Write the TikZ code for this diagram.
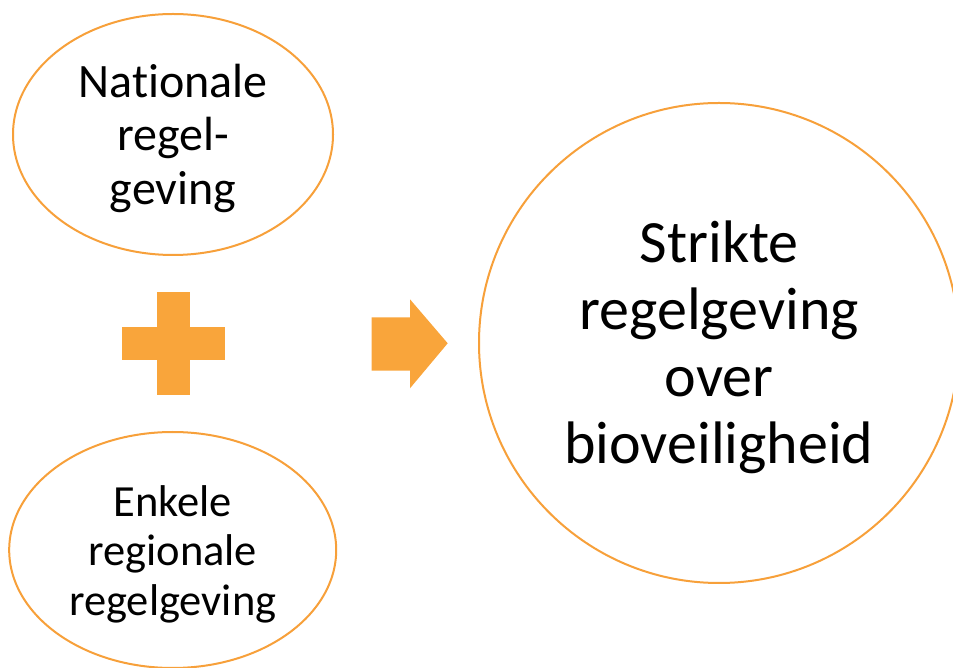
\documentclass[tikz,border=0pt]{standalone}
\usepackage{fontspec}
\setmainfont{Carlito}[Ligatures=NoCommon]
\usetikzlibrary{shapes.geometric}
\definecolor{orangefill}{HTML}{F9A53B}
\definecolor{orangeline}{HTML}{F7A03A}
\begin{document}
\begin{tikzpicture}[x=1pt,y=1pt,
  outlineshape/.style={draw=orangeline,line width=2pt,fill=white,inner sep=0pt},
  ovalbox/.style={outlineshape,ellipse},
  roundbox/.style={outlineshape,circle},
  smalltext/.style={align=center,font=\fontsize{48}{53.5}\selectfont,inner sep=0pt},
  lowtext/.style={align=center,font=\fontsize{44.5}{49.5}\selectfont,inner sep=0pt},
  bigtext/.style={align=center,font=\fontsize{60}{67.2}\selectfont,inner sep=0pt},
  symbolfill/.style={fill=orangefill}]
\useasboundingbox (0,0) rectangle (953,667);
\clip (0,0) rectangle (953,667);
% shapes
\node[ovalbox,minimum width=320,minimum height=241] (nat) at (173,532.5) {};
\node[ovalbox,minimum width=327,minimum height=236] (reg) at (172.7,117) {};
\node[roundbox,minimum size=480] (res) at (719,324) {};
% texts
\node[smalltext] (nattext) at (173,529) {Nationale\\regel-\\geving};
\node[lowtext] (regtext) at (172.7,113) {Enkele\\regionale\\regelgeving};
\node[bigtext] (restext) at (719,319.5) {Strikte\\regelgeving\\over\\bioveiligheid};
% plus sign
\coordinate (pluscenter) at (173,323.2);
\fill[symbolfill] ([shift={(-16.5,-51.5)}]pluscenter) rectangle ([shift={(16.5,51.5)}]pluscenter);
\fill[symbolfill] ([shift={(-51.5,-16.5)}]pluscenter) rectangle ([shift={(51.5,16.5)}]pluscenter);
% arrow
\coordinate (arrowtip) at (447.7,323.7);
\fill[symbolfill] (371.7,296.3) -- (410,296.3) -- (410,278.7) -- (arrowtip)
  -- (410,367.7) -- (410,349.7) -- (371.7,349.7) -- cycle;
\end{tikzpicture}
\end{document}
